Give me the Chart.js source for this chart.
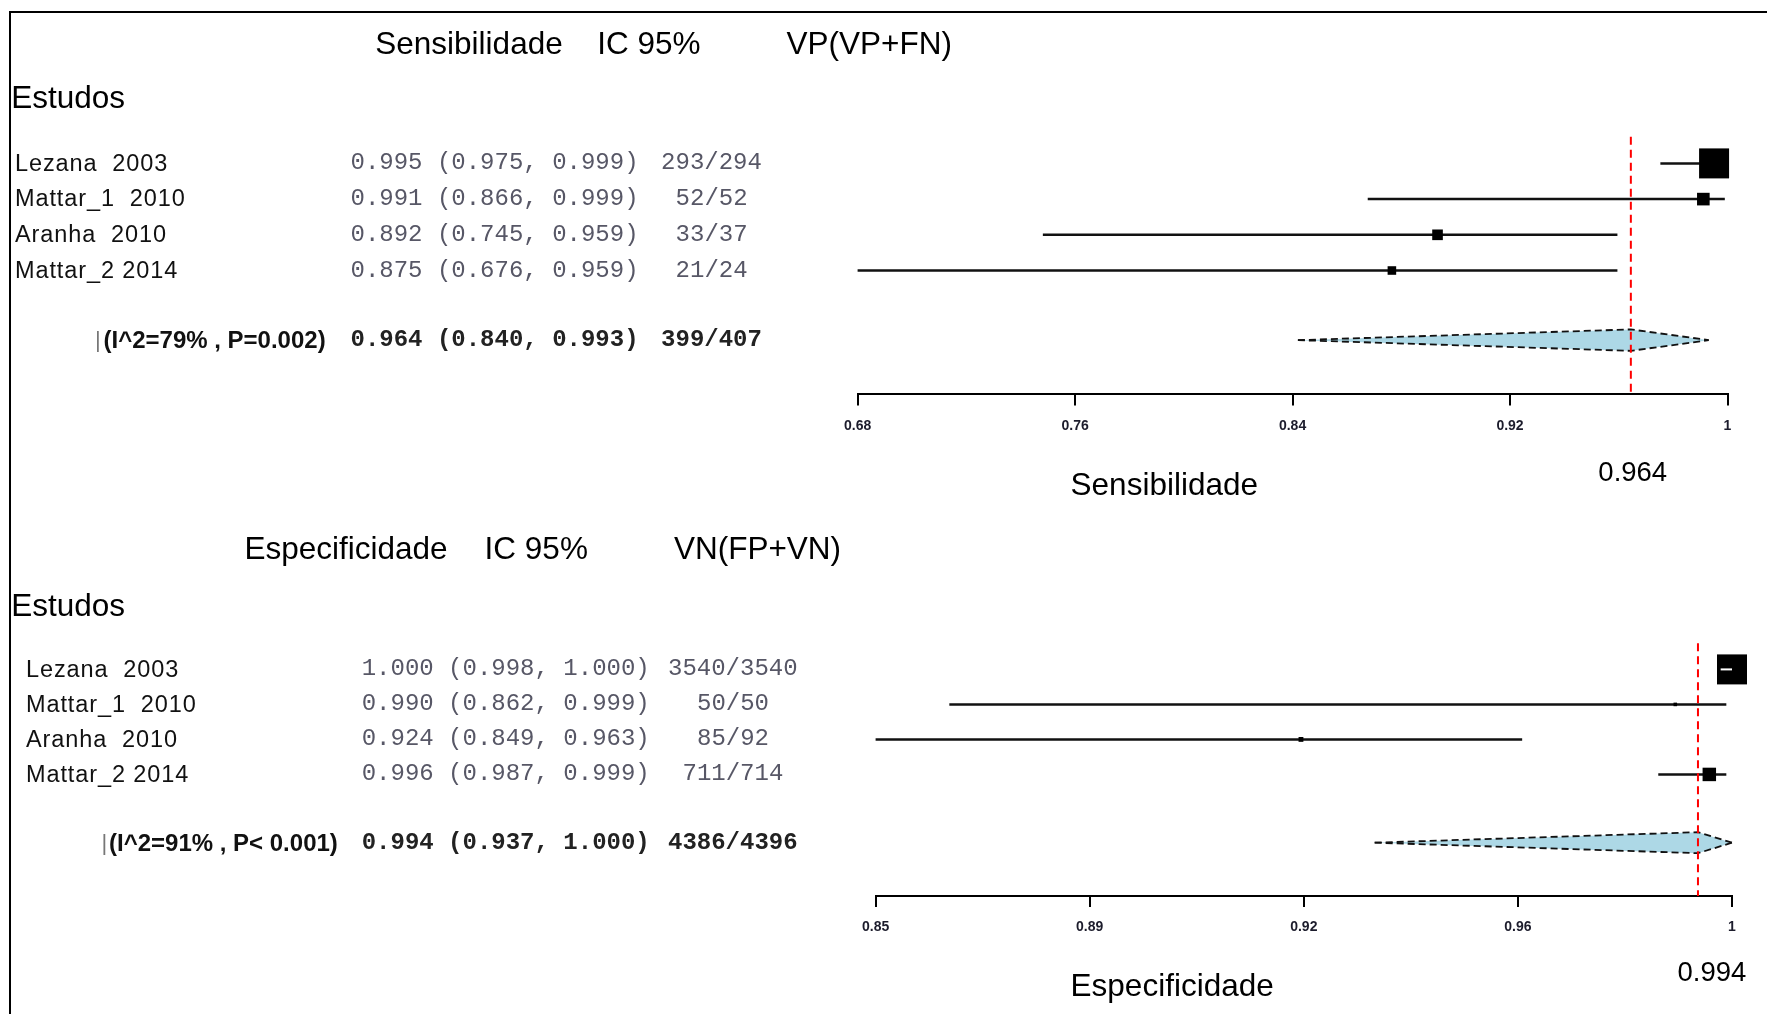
<!DOCTYPE html>
<html>
<head>
<meta charset="utf-8">
<script src="https://cdn.jsdelivr.net/npm/chart.js@4.4.1/dist/chart.umd.min.js"></script>
<style>
html,body{margin:0;padding:0;background:#fff;}
#wrap{position:relative;width:1767px;height:1014px;overflow:hidden;background:#fff;}
canvas{position:absolute;left:0;top:0;}
.t{position:absolute;white-space:pre;line-height:1;}
#frame{position:absolute;left:9px;top:11px;width:1780px;height:1030px;border-top:2px solid #000;border-left:2px solid #000;}
</style>
</head>
<body>
<div id="wrap">
<div id="frame"></div>
<canvas id="c1" width="1767" height="1014"></canvas>
<canvas id="c2" width="1767" height="1014"></canvas>
</div>
<script>
// ---------- DATA ----------
const studies = ['Lezana  2003', 'Mattar_1  2010', 'Aranha  2010', 'Mattar_2 2014'];

const sensEst = [0.995, 0.991, 0.892, 0.875];
const sensLo  = [0.975, 0.866, 0.745, 0.676];
const sensHi  = [0.999, 0.999, 0.959, 0.959];
const sensTP  = [293, 52, 33, 21];
const sensN   = [294, 52, 37, 24];
const sensPooled = [0.964, 0.840, 0.993];
const sensPooledCount = [399, 407];
const sensHet = '(I^2=79% , P=0.002)';
const sensTicks = ['0.68', '0.76', '0.84', '0.92', '1'];
const sensHeaders = ['Sensibilidade', 'IC 95%', 'VP(VP+FN)'];
const sensAxisTitle = 'Sensibilidade';

const specEst = [1.000, 0.990, 0.924, 0.996];
const specLo  = [0.998, 0.862, 0.849, 0.987];
const specHi  = [1.000, 0.999, 0.963, 0.999];
const specTN  = [3540, 50, 85, 711];
const specN   = [3540, 50, 92, 714];
const specPooled = [0.994, 0.937, 1.000];
const specPooledCount = [4386, 4396];
const specHet = '(I^2=91% , P< 0.001)';
const specTicks = ['0.85', '0.89', '0.92', '0.96', '1'];
const specHeaders = ['Especificidade', 'IC 95%', 'VN(FP+VN)'];
const specAxisTitle = 'Especificidade';

const rowLabel = 'Estudos';

// ---------- LAYOUT / STYLE ----------
const SUMROW = 4.95, YMIN = -1, YMAX = 6.47, DH = 0.3, BOXMAX = 30;
const SANS = "'Liberation Sans', Arial, sans-serif";
const MONO = "'Liberation Mono', 'Courier New', monospace";
const wrap = document.getElementById('wrap');

function addText(txt, o) {
  const d = document.createElement('div');
  d.className = 't';
  d.textContent = txt;
  d.style.fontFamily = o.family || SANS;
  d.style.fontSize = o.size + 'px';
  d.style.fontWeight = o.weight || 'normal';
  d.style.color = o.color || '#000';
  if (o.ls) d.style.letterSpacing = o.ls + 'px';
  const top = (o.baseline !== undefined) ? o.baseline - (o.ascent || 0.8465) * o.size : o.center - o.size / 2;
  d.style.top = top + 'px';
  d.style.left = o.x + 'px';
  wrap.appendChild(d);
  if (o.align === 'center') d.style.left = (o.x - d.offsetWidth / 2) + 'px';
  return d;
}

const fmt = v => v.toFixed(3);

function makePanel(p) {
  const xmin = Math.min(...p.lo);
  const xmax = 1;
  const nMax = Math.max(...p.n);
  const [pe, pl, ph] = p.pooled;
  const datasets = [];
  datasets.push({type:'line', data:[{x:pl,y:SUMROW},{x:pe,y:SUMROW-DH},{x:ph,y:SUMROW}],
    borderColor:'#111', borderWidth:1.8, borderDash:[7,4], pointRadius:0, fill:false, order:4, clip:false});
  datasets.push({type:'line', data:[{x:pl,y:SUMROW},{x:pe,y:SUMROW+DH},{x:ph,y:SUMROW}],
    borderColor:'#111', borderWidth:1.8, borderDash:[7,4], pointRadius:0, fill:'-1', backgroundColor:'#add8e6', order:4, clip:false});
  p.est.forEach((e, i) => datasets.push({type:'line', data:[{x:p.lo[i],y:i},{x:p.hi[i],y:i}],
    borderColor:'#111', borderWidth:2.5, pointRadius:0, fill:false, order:3, clip:false}));
  datasets.push({type:'line', data:[{x:pe,y:-0.75},{x:pe,y:YMAX}],
    borderColor:'#ff0000', borderWidth:2, borderDash:[8,5], pointRadius:0, fill:false, order:2, clip:false});
  datasets.push({type:'scatter', data:p.est.map((e, i) => ({x:e, y:i})), pointStyle:'rect',
    pointRadius:p.n.map(v => Math.max(2, BOXMAX * Math.sqrt(v / nMax)) / Math.SQRT2),
    backgroundColor:'#000', borderColor:'#000', borderWidth:0, order:1, clip:false});
  // a CI that lies inside its (largest) box shows through in white, as in the original output
  const inside = [];
  p.est.forEach((e, i) => { if (p.n[i] === nMax && p.hi[i] === xmax) inside.push(i); });
  inside.forEach(i => datasets.push({type:'line', data:[{x:p.lo[i], y:i}, {x:p.hi[i], y:i}],
    borderColor:'#fff', borderWidth:2, pointRadius:0, fill:false, order:0, clip:false}));

  const chart = new Chart(document.getElementById(p.canvas), {
    type:'scatter',
    data:{datasets},
    options:{
      responsive:false, animation:false, devicePixelRatio:1, events:[],
      layout:{padding:p.padding},
      plugins:{legend:{display:false}, tooltip:{enabled:false}, title:{display:false}},
      scales:{
        x:{type:'linear', position:'bottom', min:xmin, max:xmax,
          afterFit:(s) => { s.height = 40; },
          afterBuildTicks:(s) => { s.ticks = p.ticks.map((_, k) => ({value: xmin + k * (xmax - xmin) / (p.ticks.length - 1)})); },
          ticks:{autoSkip:false, maxRotation:0, minRotation:0, padding:12, color:'#1c1c2c',
            font:{family:SANS, size:14, weight:'bold'}, callback:(v, i) => p.ticks[i]},
          grid:{display:true, drawOnChartArea:false, drawTicks:true, tickLength:11, color:'#000', lineWidth:2},
          border:{display:true, color:'#000', width:2}
        },
        y:{type:'linear', display:false, reverse:true, min:YMIN, max:YMAX}
      }
    }
  });

  const ys = chart.scales.y, xs = chart.scales.x;
  p.headers.forEach((h, k) => addText(h, {x:p.headerX[k], baseline:p.headerBase, size:31.5}));
  addText(rowLabel, {x:11.3, baseline:p.estudosBase, size:31.5});
  p.est.forEach((e, i) => {
    const cy = ys.getPixelForValue(i);
    addText(studies[i], {x:p.namesX, center:cy, size:23.5, ls:0.9, color:'#111'});
    addText(`${fmt(e)} (${fmt(p.lo[i])}, ${fmt(p.hi[i])})`, {x:p.valuesX, center:cy, size:24, family:MONO, color:'#575766'});
    addText(`${p.k[i]}/${p.n[i]}`, {x:p.countX, center:cy, size:24, family:MONO, color:'#575766', align:'center'});
  });
  const sy = ys.getPixelForValue(SUMROW);
  addText('|', {x:p.barX, center:sy, size:22, color:'#777'});
  addText(p.het, {x:p.hetX, center:sy, size:24, weight:'bold', color:'#111'});
  addText(`${fmt(pe)} (${fmt(pl)}, ${fmt(ph)})`, {x:p.valuesX, center:sy, size:24, family:MONO, weight:'bold', color:'#222'});
  addText(`${p.pooledCount[0]}/${p.pooledCount[1]}`, {x:p.countX, center:sy, size:24, family:MONO, weight:'bold', color:'#222', align:'center'});
  addText(p.axisTitle, {x:1070.6, baseline:p.axisTitleBase, size:31.5});
  const lab = addText(pe.toFixed(3), {x:0, baseline:p.pooledLabBase, size:27.5});
  const w = lab.offsetWidth;
  lab.style.left = (xs.getPixelForValue(pe) - w / 2 + p.labShift) + 'px';
}

makePanel({
  canvas:'c1', est:sensEst, lo:sensLo, hi:sensHi, k:sensTP, n:sensN,
  pooled:sensPooled, pooledCount:sensPooledCount, het:sensHet, ticks:sensTicks,
  headers:sensHeaders, axisTitle:sensAxisTitle,
  padding:{top:127.7, left:857.6, right:39.5, bottom:579.6},
  headerX:[375.3, 597.3, 786.6], headerBase:54.5, estudosBase:108.5,
  namesX:15, valuesX:350.5, countX:711.6, barX:95, hetX:103.5,
  axisTitleBase:495.5, pooledLabBase:481, labShift:2
});

makePanel({
  canvas:'c2', est:specEst, lo:specLo, hi:specHi, k:specTN, n:specN,
  pooled:specPooled, pooledCount:specPooledCount, het:specHet, ticks:specTicks,
  headers:specHeaders, axisTitle:specAxisTitle,
  padding:{top:634.4, left:875.6, right:35, bottom:78.1},
  headerX:[244.5, 484.6, 673.9], headerBase:560, estudosBase:616.4,
  namesX:26, valuesX:361.7, countX:733, barX:101.5, hetX:109,
  axisTitleBase:996.5, pooledLabBase:981.5, labShift:14
});
</script>
</body>
</html>
